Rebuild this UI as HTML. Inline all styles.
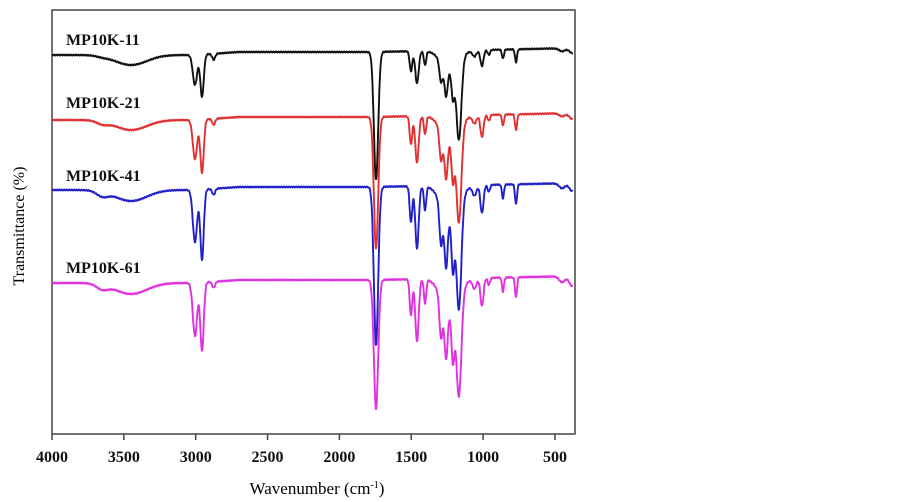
<!DOCTYPE html>
<html><head><meta charset="utf-8"><style>
html,body{margin:0;padding:0;background:#fff;}
svg{display:block;font-family:"Liberation Serif",serif;}
</style></head><body>
<svg id="s" width="903" height="502" viewBox="0 0 903 502">
<rect x="52" y="10" width="523" height="424" fill="none" stroke="#444" stroke-width="1.5"/>
<g id="ticks" stroke="#444" stroke-width="1.5"></g>
<g font-size="16" font-weight="bold" text-anchor="middle" fill="#111" id="tl"></g>
<text x="317" y="494" font-size="17" text-anchor="middle">Wavenumber (cm<tspan font-size="10" dy="-6">-1</tspan><tspan dy="6">)</tspan></text>
<text transform="translate(24,226) rotate(-90)" font-size="16" text-anchor="middle">Transmittance (%)</text>
<g font-size="16" font-weight="bold" fill="#111">
<text x="66" y="45">MP10K-11</text>
<text x="66" y="108">MP10K-21</text>
<text x="66" y="181">MP10K-41</text>
<text x="66" y="273">MP10K-61</text>
</g>
<g id="lines" fill="none" stroke-width="1.9" stroke-linejoin="round"></g>
</svg>
<script>
var X=function(w){return 52+(4000-w)*0.1437;};
var ns="http://www.w3.org/2000/svg";
var tk=document.getElementById('ticks'),tl=document.getElementById('tl');
for(var w=4000;w>=500;w-=500){var x=X(w);
var l=document.createElementNS(ns,'line');l.setAttribute('x1',x);l.setAttribute('x2',x);l.setAttribute('y1',434);l.setAttribute('y2',440);tk.appendChild(l);
var t=document.createElementNS(ns,'text');t.setAttribute('x',x);t.setAttribute('y',462);t.textContent=w;tl.appendChild(t);}
var P=[
[3650,40,1,3,5,5],[3450,110,10,10,11,11],
[3005,15,30,39,52,53],[2956,12,42,53,70,68],[2875,10,6,6,6,6],
[1745,15,128,132,158,129],
[1502,9,20,28,36,36],[1460,12,32,46,62,62],[1404,8,14,18,24,24],
[1230,60,20,26,34,34],
[1293,11,20,30,40,40],[1258,11,28,40,52,50],[1210,10,28,40,52,50],[1168,17,78,92,104,98],
[1060,14,6,8,10,10],[1008,11,16,22,28,28],[960,8,5,6,7,7],[862,7,9,11,14,14],[771,7,13,16,20,20],[450,20,3,3,5,6],[380,20,5,6,8,10]];
var base=[[4000,55],[3000,55],[2700,52],[1800,52],[1000,50],[350,48]];
function B(w){for(var i=0;i<base.length-1;i++){if(w<=base[i][0]&&w>=base[i+1][0]){var f=(base[i][0]-w)/(base[i][0]-base[i+1][0]);return base[i][1]+f*(base[i+1][1]-base[i][1]);}}return 48;}
var off=[0,65,135,228],col=['#111','#e03030','#2020c8','#e030e0'];
var g=document.getElementById('lines');
for(var s=0;s<4;s++){var d='';
for(var w=4000;w>=375;w-=2){var y=B(w)+off[s];
for(var k=0;k<P.length;k++){var p=P[k],z=(w-p[0])/p[1];if(Math.abs(z)<6)y+=p[2+s]*Math.exp(-z*z/2);}
y+=0.5*Math.sin(w*0.37+s);
d+=(d?'L':'M')+X(w).toFixed(1)+' '+y.toFixed(1);}
var pa=document.createElementNS(ns,'path');pa.setAttribute('d',d);pa.setAttribute('stroke',col[s]);g.appendChild(pa);}
</script>
</body></html>
